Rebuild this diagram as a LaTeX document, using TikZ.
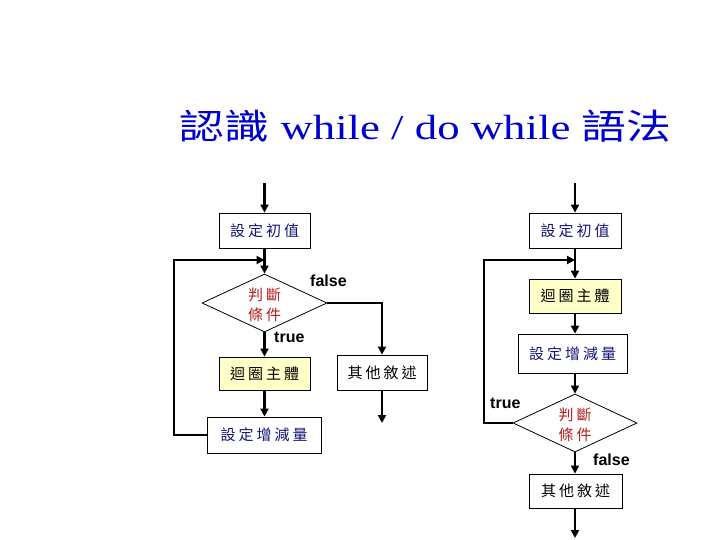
\documentclass[tikz,border=0pt]{standalone}
\usepackage{fontspec}
\setmainfont{Liberation Serif}
\newfontfamily\cjk{Noto Sans CJK TC}
\newfontfamily\lab{Liberation Sans}
\usetikzlibrary{arrows.meta,shapes.geometric}
\definecolor{titleblue}{RGB}{0,0,204}
\definecolor{navytxt}{RGB}{20,20,120}
\definecolor{redtxt}{RGB}{180,30,30}
\definecolor{bodyfill}{RGB}{255,255,200}
\newcommand{\cg}{\hspace{3pt}}
\tikzset{
  box/.style={draw=black, line width=0.8pt, fill=white, inner sep=0pt, font=\cjk\fontsize{15}{18}\selectfont},
  bodybox/.style={box, fill=bodyfill},
  dia/.style={draw=black, line width=0.8pt, diamond, inner sep=0pt, minimum width=125pt, minimum height=58pt, fill=white},
  dtext/.style={font=\cjk\fontsize{15}{20}\selectfont, text=redtxt, align=center, inner sep=0pt},
  arr/.style={line width=2.4pt, -{Triangle[length=8pt,width=8pt]}},
  lbl/.style={font=\lab\bfseries\fontsize{16}{18}\selectfont, anchor=west, inner sep=0pt}
}
\begin{document}
\begin{tikzpicture}[x=1pt,y=-1pt]
\useasboundingbox (0,0) rectangle (720,540);
% title
\node[xscale=1.28, text=titleblue, font=\fontsize{35}{40}\selectfont, inner sep=0pt] (title) at (425.5,126) {{\cjk 認識} while / do while {\cjk 語法}};
% ---------- left: while ----------
\coordinate (startL) at (264.5,183);
\coordinate (joinL) at (264.5,260);
\coordinate (cL) at (174,260);
\coordinate (endL) at (382,423);
\node[box, text=navytxt, minimum width=91pt, minimum height=35pt] (initL) at (264.5,230.5) {設\cg 定\cg 初\cg 值};
\node[dia] (diaL) at (264.5,303) {};
\node[dtext] (dtL) at (264.5,305) {判\cg 斷\\條\cg 件};
\node[bodybox, minimum width=91pt, minimum height=33pt] (bodyL) at (264.5,373.5) {迴\cg 圈\cg 主\cg 體};
\node[box, text=navytxt, minimum width=114pt, minimum height=36pt] (incL) at (264,435) {設\cg 定\cg 增\cg 減\cg 量};
\node[box, minimum width=90pt, minimum height=35pt] (otherL) at (382,372.5) {其\cg 他\cg 敘\cg 述};
\draw[arr] (startL) -- (initL.north);
\draw[arr] (initL.south) -- (diaL.north);
\draw[arr] (diaL.south) -- (bodyL.north);
\draw[arr] (bodyL.south) -- (bodyL.south |- incL.north);
\draw[arr] (incL.west) -| (cL) -- (joinL);
\draw[arr] (diaL.east) -| (otherL.north);
\draw[arr] (otherL.south) -- (endL);
\node[lbl] (fL) at (310,281) {false};
\node[lbl] (tL) at (274,337) {true};
% ---------- right: do while ----------
\coordinate (startR) at (575,183);
\coordinate (joinR) at (575,260);
\coordinate (cR) at (484,260);
\coordinate (endR) at (575,538);
\node[box, text=navytxt, minimum width=92pt, minimum height=35pt] (initR) at (575,230.5) {設\cg 定\cg 初\cg 值};
\node[bodybox, minimum width=92pt, minimum height=34pt] (bodyR) at (575,296) {迴\cg 圈\cg 主\cg 體};
\node[box, text=navytxt, minimum width=109pt, minimum height=39pt] (incR) at (572.5,353.5) {設\cg 定\cg 增\cg 減\cg 量};
\node[dia, minimum width=124pt] (diaR) at (575,423) {};
\node[dtext] (dtR) at (575,425) {判\cg 斷\\條\cg 件};
\node[box, minimum width=93pt, minimum height=34pt] (otherR) at (575.5,491) {其\cg 他\cg 敘\cg 述};
\draw[arr] (startR) -- (initR.north);
\draw[arr] (initR.south) -- (bodyR.north);
\draw[arr] (bodyR.south) -- (bodyR.south |- incR.north);
\draw[arr] (diaR.north |- incR.south) -- (diaR.north);
\draw[arr] (diaR.south) -- (diaR.south |- otherR.north);
\draw[arr] (diaR.south |- otherR.south) -- (endR);
\draw[arr] (diaR.west) -| (cR) -- (joinR);
\node[lbl] (tR) at (490,403) {true};
\node[lbl] (fR) at (593,460) {false};
\end{tikzpicture}
\end{document}
